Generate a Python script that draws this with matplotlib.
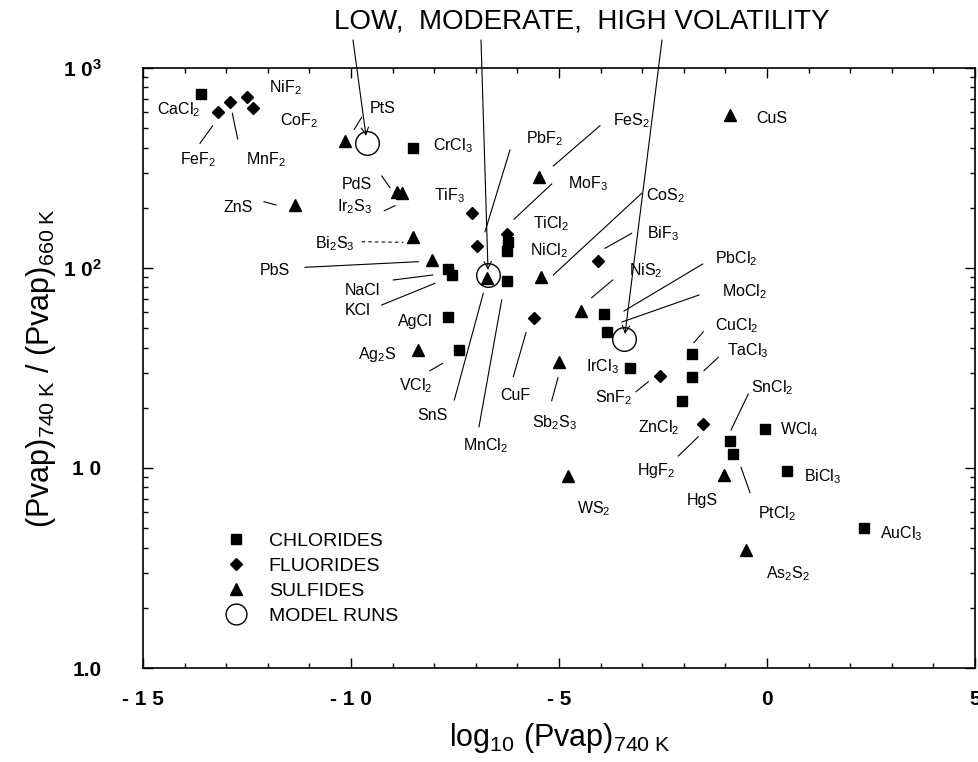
import numpy as np
import matplotlib
matplotlib.use('Agg')
import matplotlib.pyplot as plt
from matplotlib.ticker import FixedLocator, NullFormatter
from matplotlib.lines import Line2D

plt.rcParams['font.family'] = ['Liberation Sans', 'DejaVu Sans']
plt.rcParams['mathtext.fontset'] = 'custom'
plt.rcParams['mathtext.rm'] = 'Liberation Sans'
plt.rcParams['mathtext.it'] = 'Liberation Sans:italic'
plt.rcParams['mathtext.bf'] = 'Liberation Sans:bold'

# ---------------- data ----------------
chloride_names = ['CaCl2', 'CrCl3', 'NaCl', 'KCl', 'MnCl2', 'TiCl2', 'NiCl2', 'AgCl', 'VCl2',
                  'PbCl2', 'MoCl2', 'IrCl3', 'CuCl2', 'TaCl3', 'ZnCl2', 'SnCl2', 'PtCl2',
                  'WCl4', 'BiCl3', 'AuCl3']
chloride_x = [-13.6, -8.5, -7.66, -7.58, -6.26, -6.22, -6.26, -7.68, -7.40,
              -3.92, -3.85, -3.29, -1.81, -1.81, -2.05, -0.89, -0.81,
              -0.05, 0.49, 2.33]
chloride_y = [740, 400, 98.5, 92, 86, 135, 122, 57, 39,
              59, 48, 31.5, 37, 28.6, 21.6, 13.7, 11.7,
              15.7, 9.7, 5.0]

fluoride_names = ['FeF2', 'MnF2', 'NiF2', 'CoF2', 'TiF3', 'PbF2', 'MoF3', 'BiF3', 'CuF',
                  'SnF2', 'HgF2']
fluoride_x = [-13.2, -12.9, -12.5, -12.35, -7.08, -6.96, -6.26, -4.07, -5.59,
              -2.57, -1.55]
fluoride_y = [600, 675, 720, 630, 188, 129, 148, 108, 56,
              29, 16.6]

sulfide_names = ['PtS', 'PdS', 'Ir2S3', 'ZnS', 'Bi2S3', 'PbS', 'FeS2', 'CuS', 'CoS2',
                 'NiS2', 'Ag2S', 'SnS', 'Sb2S3', 'WS2', 'HgS', 'As2S2']
sulfide_x = [-10.15, -8.9, -8.78, -11.35, -8.52, -8.06, -5.48, -0.89, -5.44,
             -4.47, -8.38, -6.72, -5.0, -4.78, -1.03, -0.5]
sulfide_y = [433, 240, 237, 207, 143, 110, 284, 580, 90,
             61, 39, 89, 34, 9.1, 9.2, 3.9]

model_names = ['LOW', 'MODERATE', 'HIGH']
model_x = [-9.62, -6.70, -3.44]
model_y = [420, 92, 44]

title_text = 'LOW,  MODERATE,  HIGH VOLATILITY'
legend_labels = ['CHLORIDES', 'FLUORIDES', 'SULFIDES', 'MODEL RUNS']
xtick_vals = [-15, -10, -5, 0, 5]
xtick_labels = ['- 1 5', '- 1 0', '- 5', '0', '5']
ytick_vals = [1, 10, 100, 1000]
ytick_labels = ['1.0', '1 0', r'$\mathbf{1\ 0^{2}}$', r'$\mathbf{1\ 0^{3}}$']

# ---------------- layout (reference pixel positions for annotations) ----------------
W, H = 979, 762
AX_L, AX_R, AX_T, AX_B = 143, 975, 68, 668
XMIN, XMAX = -15, 5


def ref(px, py):
    x = XMIN + (px - AX_L) / (AX_R - AX_L) * (XMAX - XMIN)
    y = 10 ** (3 - (py - AX_T) / 200.0)
    return x, y


label_pos = {
    'CaCl2': (157, 109), 'FeF2': (180, 159), 'MnF2': (246, 159), 'NiF2': (269, 87),
    'CoF2': (280, 120), 'PtS': (370, 108), 'CrCl3': (433, 145), 'PdS': (342, 184),
    'Ir2S3': (337, 206), 'ZnS': (223, 207), 'Bi2S3': (315, 243), 'PbS': (260, 270),
    'NaCl': (345, 290), 'KCl': (345, 310), 'AgCl': (398, 321), 'Ag2S': (358, 354),
    'VCl2': (399, 385), 'SnS': (417, 415), 'MnCl2': (463, 445), 'CuF': (500, 395),
    'Sb2S3': (532, 422), 'IrCl3': (586, 366), 'SnF2': (595, 397), 'ZnCl2': (638, 427),
    'HgF2': (637, 470), 'WS2': (577, 508), 'HgS': (687, 500), 'PtCl2': (758, 513),
    'BiCl3': (804, 476), 'AuCl3': (880, 533), 'As2S2': (766, 573), 'WCl4': (780, 429),
    'SnCl2': (751, 387), 'TaCl3': (727, 350), 'CuCl2': (715, 325), 'MoCl2': (722, 291),
    'PbCl2': (715, 258), 'CuS': (756, 118), 'FeS2': (613, 120), 'PbF2': (526, 138),
    'MoF3': (568, 183), 'TiF3': (434, 195), 'TiCl2': (533, 223), 'NiCl2': (530, 250),
    'CoS2': (646, 195), 'BiF3': (647, 233), 'NiS2': (629, 270),
}

leaders = {
    'FeF2': (212.7, 125.7, 200, 143.3), 'MnF2': (232.3, 113.3, 237.7, 139),
    'PtS': (361.7, 117.3, 354.3, 129.3), 'PdS': (381.7, 176, 390, 187.7),
    'Ir2S3': (384.3, 210.7, 395, 205.7), 'ZnS': (264, 201.7, 276, 205),
    'PbS': (305, 267.3, 418.3, 261.7), 'NaCl': (393.3, 280, 432.7, 275),
    'KCl': (381.7, 305, 435, 283.3), 'VCl2': (430, 370.7, 442.7, 363.3),
    'SnS': (454.3, 400, 483.3, 293.3), 'MnCl2': (479, 426.7, 501.7, 300),
    'CuF': (513.3, 376.7, 526, 332.7), 'Sb2S3': (551.7, 400.7, 558, 377.7),
    'SnF2': (636, 391.7, 648.3, 381.7), 'HgF2': (678.3, 456, 698.3, 436.7),
    'PtCl2': (750, 492.7, 741, 467.3), 'SnCl2': (748.3, 394, 731, 430),
    'TaCl3': (718.3, 357.3, 704, 370.7), 'CuCl2': (703.3, 331.7, 694, 342.7),
    'MoCl2': (699, 295, 622, 322), 'PbCl2': (702.7, 264, 624, 311),
    'FeS2': (600, 125.7, 553.3, 166), 'PbF2': (510, 150, 485, 231.7),
    'MoF3': (551.7, 184, 514, 219.3), 'CoS2': (641.7, 193.3, 553.3, 275),
    'BiF3': (631.7, 233.3, 605, 248.3), 'NiS2': (612.7, 280, 591.7, 297.7),
}
dashed_leaders = {'Bi2S3': (361.7, 241.7, 403.3, 242.3)}

arrow_starts = {'LOW': (353, 40), 'MODERATE': (481, 40), 'HIGH': (662, 40)}
arrow_ends = {'LOW': (366, 136), 'MODERATE': (488, 270), 'HIGH': (625, 334)}


def fmt(name):
    out = ''
    for ch in name:
        if ch.isdigit():
            out += r'$_{' + ch + '}$'
        else:
            out += ch
    return out


# ---------------- figure ----------------
fig = plt.figure(figsize=(W / 100, H / 100), dpi=100)
ax = fig.add_axes([AX_L / W, 1 - AX_B / H, (AX_R - AX_L) / W, (AX_B - AX_T) / H])
ax.set_xlim(XMIN, XMAX)
ax.set_yscale('log')
ax.set_ylim(1, 1000)

ms_sq, ms_di, ms_tr = 7.5, 6.2, 8.5
ax.plot(chloride_x, chloride_y, 's', color='black', ms=ms_sq, ls='none', clip_on=False)
ax.plot(fluoride_x, fluoride_y, 'D', color='black', ms=ms_di, ls='none', clip_on=False)
ax.plot(sulfide_x, sulfide_y, '^', color='black', ms=ms_tr, ls='none', clip_on=False)
ax.plot(model_x, model_y, 'o', mfc='none', mec='black', mew=1.0, ms=17, ls='none')

lab_fs = 11.5
for name, (px, py) in label_pos.items():
    x, y = ref(px, py + 5.5)
    ax.text(x, y, fmt(name), fontsize=lab_fs, ha='left', va='baseline', color='black')

for name, (x1, y1, x2, y2) in leaders.items():
    a = ref(x1, y1)
    b = ref(x2, y2)
    ax.plot([a[0], b[0]], [a[1], b[1]], color='black', lw=0.8, clip_on=False)
for name, (x1, y1, x2, y2) in dashed_leaders.items():
    a = ref(x1, y1)
    b = ref(x2, y2)
    ax.plot([a[0], b[0]], [a[1], b[1]], color='black', lw=0.8, ls=(0, (3, 3)), clip_on=False)

for k in model_names:
    s = ref(*arrow_starts[k])
    e = ref(*arrow_ends[k])
    ax.annotate('', xy=e, xytext=s, xycoords='data', textcoords='data',
                arrowprops=dict(arrowstyle='->', lw=0.8, color='black', mutation_scale=13,
                                shrinkA=0, shrinkB=0),
                annotation_clip=False)

# ticks
ax.set_xticks(xtick_vals)
ax.set_xticklabels(xtick_labels, fontsize=15, fontweight='bold')
ax.xaxis.set_minor_locator(FixedLocator(np.arange(-15, 6, 1)))
minor_y = [m * 10 ** d for d in range(0, 3) for m in range(2, 10)]
ax.yaxis.set_minor_locator(FixedLocator(minor_y))
ax.yaxis.set_minor_formatter(NullFormatter())
ax.set_yticks(ytick_vals)
ax.set_yticklabels(ytick_labels, fontsize=15, fontweight='bold')
ax.tick_params(which='both', direction='in', top=True, right=True, width=1.0)
ax.tick_params(which='major', length=7)
ax.tick_params(which='minor', length=3.5)
ax.tick_params(axis='x', which='major', pad=16)
ax.tick_params(axis='y', which='major', pad=30)
for sp in ax.spines.values():
    sp.set_linewidth(1.2)

# legend
handles = [
    Line2D([], [], marker='s', color='black', ls='none', ms=7),
    Line2D([], [], marker='D', color='black', ls='none', ms=5.8),
    Line2D([], [], marker='^', color='black', ls='none', ms=8),
    Line2D([], [], marker='o', mfc='none', mec='black', mew=1.0, ls='none', ms=15),
]
leg = ax.legend(handles, legend_labels, loc='upper left',
                bbox_to_anchor=((226 - AX_L) / (AX_R - AX_L), (AX_B - 532) / (AX_B - AX_T)),
                frameon=False, fontsize=14, handlelength=1.0, handletextpad=1.2,
                labelspacing=0.38, borderpad=0, borderaxespad=0)

# axis labels and title
fig.text(560 / W, 1 - 738 / H, r'log$_{10}$ (Pvap)$_{740\ \mathrm{K}}$', fontsize=22,
         ha='center', va='center')
fig.text(41 / W, 1 - 368 / H,
         r'(Pvap)$_{740\ \mathrm{K}}$ / (Pvap)$_{660\ \mathrm{K}}$', fontsize=22,
         rotation=90, ha='center', va='center')
fig.text(582 / W, 1 - 22 / H, title_text, fontsize=20, ha='center', va='center')

fig.savefig('out.png', dpi=100)
